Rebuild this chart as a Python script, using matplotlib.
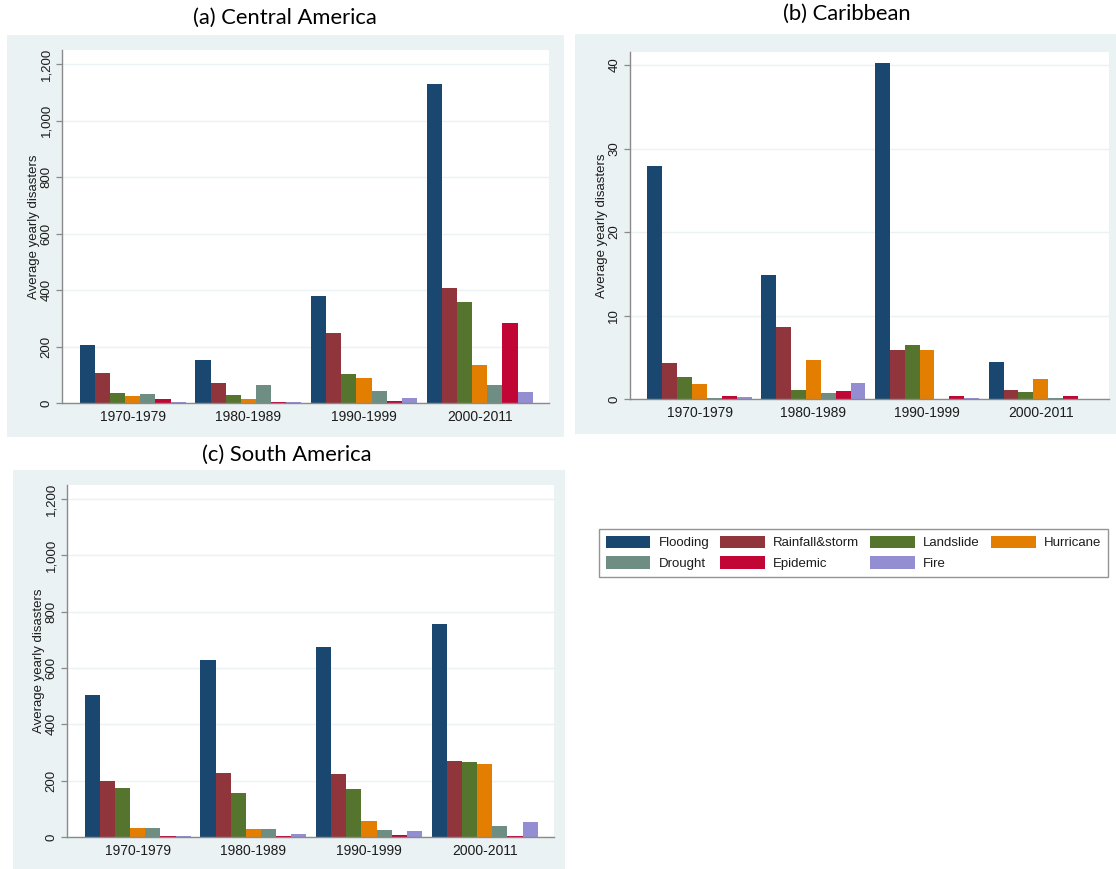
"""Average yearly disasters by type and decade, for three Latin American regions."""

import numpy as np
import matplotlib

matplotlib.use("Agg")
import matplotlib.pyplot as plt
from matplotlib.patches import Rectangle, Patch
from matplotlib.ticker import FuncFormatter

# ---------------------------------------------------------------------------
# data
# ---------------------------------------------------------------------------
decades = ["1970-1979", "1980-1989", "1990-1999", "2000-2011"]
hazards = ["Flooding", "Rainfall&storm", "Landslide", "Hurricane",
           "Drought", "Epidemic", "Fire"]

# rows follow `hazards`, columns follow `decades`
central_america = [
    [204, 151, 380, 1131],
    [107, 72, 247, 408],
    [34, 30, 102, 359],
    [25, 13, 90, 136],
    [31, 63, 43, 63],
    [13, 2, 8, 285],
    [4, 3, 18, 40],
]
caribbean = [
    [27.9, 14.8, 40.3, 4.4],
    [4.3, 8.6, 5.9, 1.1],
    [2.6, 1.1, 6.5, 0.85],
    [1.8, 4.7, 5.9, 2.4],
    [0.08, 0.7, 0.0, 0.08],
    [0.35, 0.9, 0.35, 0.3],
    [0.25, 1.9, 0.1, 0.0],
]
south_america = [
    [506, 627, 675, 758],
    [200, 229, 225, 270],
    [174, 158, 172, 267],
    [33, 30, 57, 261],
    [31, 30, 26, 39],
    [4, 4, 8, 5],
    [5, 9, 21, 54],
]

# Stata s2color palette
colors = ["#1a476f", "#90353b", "#55752f", "#e37e00",
          "#6e8e84", "#c10534", "#938dd2"]
BG = "#eaf2f3"
AXIS = "#8a8a8a"
TXT = "#1c1c1c"

W, H = 1116, 869
fig = plt.figure(figsize=(W / 100, H / 100), dpi=100)
fig.patch.set_facecolor("white")

TICK_FONT = ["Liberation Sans", "DejaVu Sans"]
TITLE_FONT = ["Lato", "DejaVu Sans"]


def px_box(x0, y0, x1, y1):
    """Pixel box (top-left origin) -> figure fraction [left, bottom, w, h]."""
    return [x0 / W, 1 - y1 / H, (x1 - x0) / W, (y1 - y0) / H]


def region_bg(x0, y0, x1, y1):
    l, b, w, h = px_box(x0, y0, x1, y1)
    fig.add_artist(Rectangle((l, b), w, h, transform=fig.transFigure,
                             facecolor=BG, edgecolor="none", zorder=-5))


def panel(box, values, ymax, yticks, title, title_xy):
    ax = fig.add_axes(px_box(*box))
    ax.set_facecolor("white")
    pitch = 7.64
    n = len(hazards)
    for j, (vals, c) in enumerate(zip(values, colors)):
        xs = np.arange(len(decades)) * pitch + j - (n - 1) / 2
        ax.bar(xs, vals, width=1.0, color=c, edgecolor="none", zorder=3)
    ax.set_xlim(-(n / 2) - 1.17, (len(decades) - 1) * pitch + n / 2 + 1.08)
    ax.set_ylim(0, ymax)
    ax.set_xticks(np.arange(len(decades)) * pitch)
    ax.set_xticklabels(decades, family=TICK_FONT, fontsize=10, color=TXT)
    ax.tick_params(axis="x", length=0, pad=5)
    ax.set_yticks(yticks)
    ax.yaxis.set_major_formatter(FuncFormatter(lambda v, _: f"{v:,.0f}"))
    ax.tick_params(axis="y", length=4, width=0.9, color=AXIS, pad=3,
                   labelrotation=90, labelsize=9.5, labelcolor=TXT)
    for lab in ax.get_yticklabels():
        lab.set_family(TICK_FONT)
        lab.set_va("center")
    ax.grid(axis="y", color=BG, linewidth=1.0, zorder=0)
    for s in ("top", "right"):
        ax.spines[s].set_visible(False)
    for s in ("left", "bottom"):
        ax.spines[s].set_color(AXIS)
        ax.spines[s].set_linewidth(1.0)
        ax.spines[s].set_zorder(4)
    ax.set_ylabel("Average yearly disasters", family=TICK_FONT,
                  fontsize=9.5, color=TXT, labelpad=0)
    fig.text(title_xy[0] / W, 1 - title_xy[1] / H, title, family=TITLE_FONT,
             fontsize=15.8, ha="center", va="center", color="black")
    return ax


# light region backgrounds behind each graph
region_bg(7, 35, 564, 437)
region_bg(575, 34, 1116, 434)
region_bg(13, 470, 565, 869)

panel((62, 50, 549, 403), central_america, 1250,
      np.arange(0, 1201, 200), "(a) Central America", (285, 18))
panel((630, 52, 1109, 399), caribbean, 41.56,
      np.arange(0, 41, 10), "(b) Caribbean", (847, 14))
panel((67, 485, 554, 837), south_america, 1250,
      np.arange(0, 1201, 200), "(c) South America", (287, 455))

# shared legend, row-major order in four columns
handles = [Patch(facecolor=c, edgecolor="none", label=h)
           for h, c in zip(hazards, colors)]
order = [0, 4, 1, 5, 2, 6, 3]
leg = fig.legend([handles[i] for i in order], [hazards[i] for i in order],
                 ncol=4, loc="upper left",
                 bbox_to_anchor=(599 / W, 1 - 529 / H),
                 prop={"family": TICK_FONT, "size": 9.5},
                 handlelength=3.4, handleheight=1.05, handletextpad=0.6,
                 columnspacing=0.85, labelspacing=0.55, borderpad=0.5,
                 borderaxespad=0, fancybox=False, frameon=True)
leg.get_frame().set_edgecolor("#7a7a7a")
leg.get_frame().set_linewidth(1.0)
for t in leg.get_texts():
    t.set_color(TXT)

fig.savefig("out.png", dpi=100)
